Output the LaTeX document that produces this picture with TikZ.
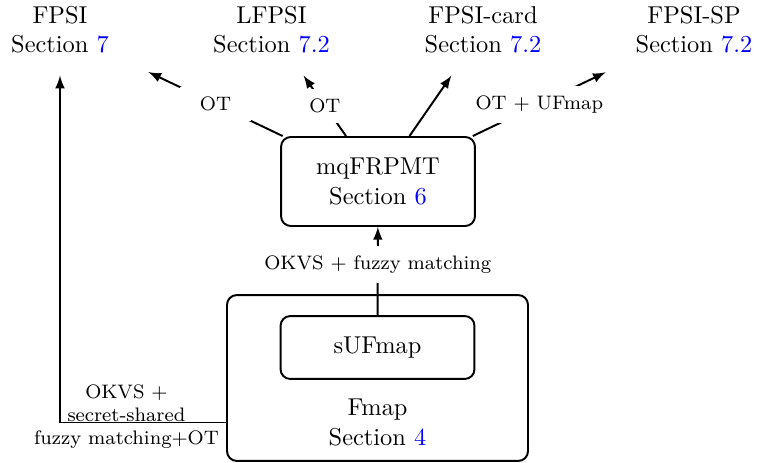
\documentclass[tikz,border=0pt]{standalone}
\usepackage{tikz}
\usepackage{amsmath,amssymb}
\usetikzlibrary{positioning}

\newcommand{\secref}[1]{Section \textcolor{blue}{#1}}

\begin{document}
\begin{tikzpicture}[x=0.41pt,y=-0.41pt,
  box/.style={draw,thick,rounded corners,align=center,minimum width=79.5pt,minimum height=36.5pt},
  target/.style={align=center,minimum width=72pt,minimum height=37pt},
  lbl/.style={font=\footnotesize,fill=white,inner xsep=8pt,inner ysep=4pt},
  conn/.style={thick,-latex}]
\useasboundingbox (0,0) rectangle (757,463);

% protocols on top:
\node[target] (fpsi) at (60,30) {FPSI\\\secref{7}};
\node[target] (lfpsi) at (271.5,30) {LFPSI\\\secref{7.2}};
\node[target] (card) at (483,30) {FPSI-card\\\secref{7.2}};
\node[target] (sp) at (694,30) {FPSI-SP\\\secref{7.2}};

% building blocks:
\node[box] (mq) at (378,181.5) {mqFRPMT\\\secref{6}};
\node[box,minimum height=25.8pt] (sufmap) at (377.5,347.5) {sUFmap};
\node[box,minimum width=123.4pt,minimum height=68pt] (fmap) at (377.5,378) {};
\node[align=center] (fmaptxt) at (377.5,422.5) {Fmap\\\secref{4}};

\draw[conn] (mq) -- node[lbl] {OT} (fpsi);
\draw[conn] (mq) -- node[lbl] {OT} (lfpsi);
\draw[conn] (mq) -- (card);
\draw[conn] (mq) -- node[lbl] {OT + UFmap} (sp);
\draw[conn] (sufmap) -- node[lbl,pos=0.57] {OKVS + fuzzy matching} (mq);
\draw[conn] (fmaptxt -| fmap.west) -| node[pos=0.3,yshift=2.5pt,font=\footnotesize,align=center] {OKVS +\\secret-shared\\fuzzy matching+OT} (fpsi);

\end{tikzpicture}
\end{document}
